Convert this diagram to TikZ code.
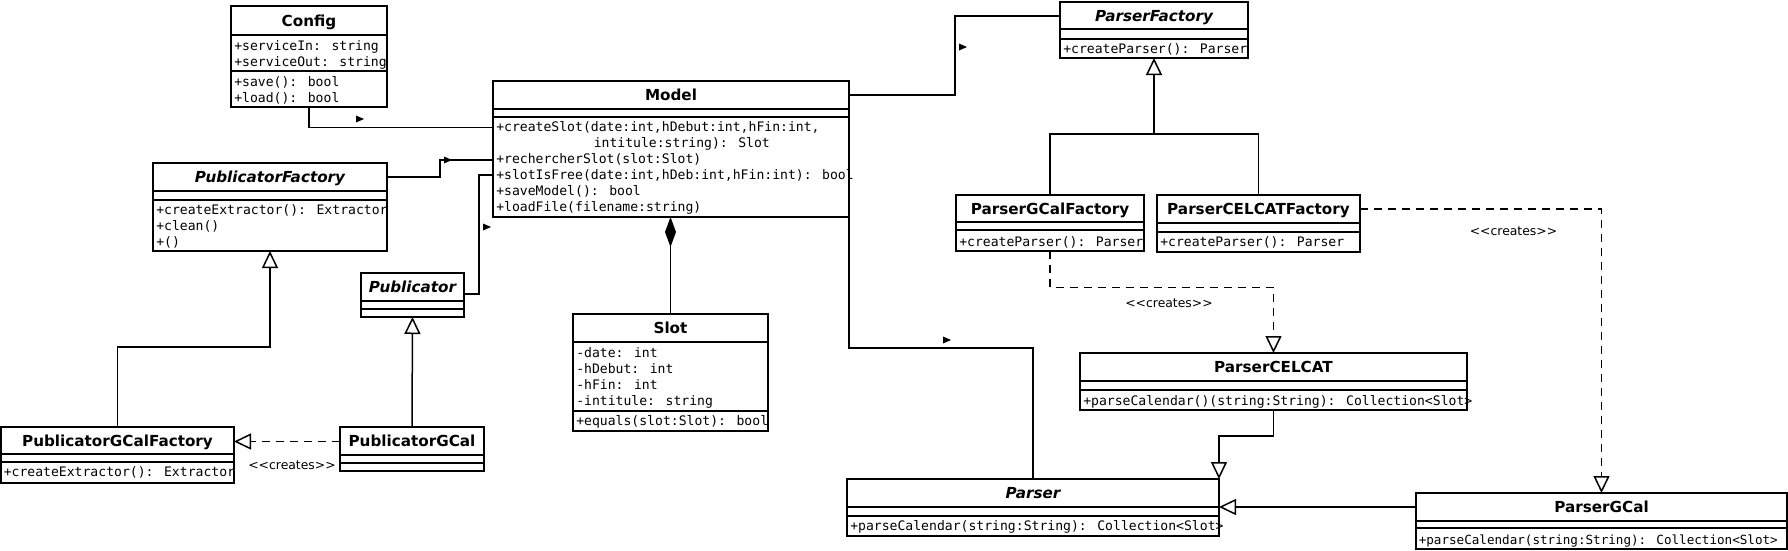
\documentclass[tikz,border=0pt]{standalone}
\usepackage{fontspec}
\setmainfont{DejaVu Sans}
\newfontfamily\monof{DejaVu Sans Mono}
\usetikzlibrary{arrows.meta}
\newcommand\umlbox[7]{%
  \node[cls, anchor=north west, minimum width={(#4-#2)*1pt}, minimum height={(#5-#3)*1pt}] (#1) at (#2,#3) {};
  \draw (#1.west |- 0,#6) -- (#1.east |- 0,#6) (#1.west |- 0,#7) -- (#1.east |- 0,#7);}
\newcommand\members[4]{%
  \node[mem, anchor=north west] (#1) at (#2,#3-12) {\rule{0pt}{12pt}#4};}
\newcommand\navmark[2]{\fill (#1-4,#2-3.5) -- (#1+4,#2) -- (#1-4,#2+3.5) -- cycle;}
\newcommand\creates{<\kern0pt<creates>\kern0pt>}
\begin{document}
\begin{tikzpicture}[x=1pt,y=-1pt, line width=1.5pt,
  cls/.style={draw, line width=1.5pt, inner sep=0pt, outer sep=0pt, fill=white},
  ttl/.style={font=\fontsize{15.2}{18}\selectfont\bfseries, inner sep=0pt, anchor=base},
  ittl/.style={font=\fontsize{15.2}{18}\selectfont\bfseries\itshape, inner sep=0pt, anchor=base},
  mem/.style={font=\monof\fontsize{13.1}{16}\selectfont, align=left, inner sep=0pt},
  lbl/.style={font=\fontsize{12.4}{14}\selectfont, inner sep=0pt},
  gen/.style={-{Triangle[open,fill=white,length=17pt,width=16pt]}},
  dsh/.style={dash pattern=on 8pt off 6pt},
  comp/.style={{Diamond[length=30pt,width=11pt]}-},
]
\useasboundingbox (0,0) rectangle (1788,550);

% ---------- classes ----------
\umlbox{config}{231}{6}{387}{107}{35}{71}
\node[ttl] (config-t) at (309,26) {Config};
\members{config-a}{233.5}{49.5}{+serviceIn: string\\+serviceOut: string}
\members{config-m}{233.5}{85.5}{+save(): bool\\+load(): bool}

\umlbox{model}{493}{81}{849}{217}{109}{117}
\node[ttl] (model-t) at (671,100.5) {Model};
\members{model-m}{495.5}{131}{+createSlot(date:int,hDebut:int,hFin:int,\\\hspace*{97.5pt}intitule:string): Slot\\+rechercherSlot(slot:Slot)\\+slotIsFree(date:int,hDeb:int,hFin:int): bool\\+saveModel(): bool\\+loadFile(filename:string)}

\umlbox{pubfac}{153}{163}{387}{251}{191}{200}
\node[ittl] (pubfac-t) at (270,182.5) {PublicatorFactory};
\members{pubfac-m}{155.5}{213.5}{+createExtractor(): Extractor\\+clean()\\+()}

\umlbox{pub}{361}{273}{464}{317}{301}{309}
\node[ittl] (pub-t) at (412.5,292.5) {Publicator};

\umlbox{pubgcalfac}{1}{427}{234}{483}{454}{462}
\node[ttl] (pubgcalfac-t) at (117.5,446) {PublicatorGCalFactory};
\members{pubgcalfac-m}{3}{476}{+createExtractor(): Extractor}

\umlbox{pubgcal}{340}{427}{484}{471}{455}{463}
\node[ttl] (pubgcal-t) at (412,446.5) {PublicatorGCal};

\umlbox{slot}{573}{314}{768}{431}{342}{411}
\node[ttl] (slot-t) at (670.5,333.5) {Slot};
\members{slot-a}{575.5}{357}{-date: int\\-hDebut: int\\-hFin: int\\-intitule: string}
\members{slot-m}{575.5}{425}{+equals(slot:Slot): bool}

\umlbox{parser}{847}{479}{1219}{536}{507}{516}
\node[ittl] (parser-t) at (1033,498.5) {Parser};
\members{parser-m}{849.5}{530}{+parseCalendar(string:String): Collection<Slot>}

\umlbox{parserfac}{1060}{2}{1248}{58}{29}{39}
\node[ittl] (parserfac-t) at (1154,21) {ParserFactory};
\members{parserfac-m}{1062.5}{53}{+createParser(): Parser}

\umlbox{pgcalfac}{956}{195}{1144}{251}{222}{230}
\node[ttl] (pgcalfac-t) at (1050,214) {ParserGCalFactory};
\members{pgcalfac-m}{958.5}{246}{+createParser(): Parser}

\umlbox{pcelfac}{1157}{195}{1360}{252}{223}{232}
\node[ttl] (pcelfac-t) at (1258.5,214.5) {ParserCELCATFactory};
\members{pcelfac-m}{1159.5}{246}{+createParser(): Parser}

\umlbox{pcelcat}{1080}{353}{1467}{410}{381}{390}
\node[ttl] (pcelcat-t) at (1273.5,372.5) {ParserCELCAT};
\members{pcelcat-m}{1082.5}{404.5}{+parseCalendar()(string:String): Collection<Slot>}

\umlbox{pgcal}{1416}{493}{1787}{549}{521}{528}
\node[ttl] (pgcal-t) at (1601.5,512.5) {ParserGCal};
\members{pgcal-m}{1418}{543.5}{\fontsize{12.6}{16}\selectfont+parseCalendar(string:String): Collection<Slot>}

% ---------- associations ----------
\draw (config.south) -- (config.south |- 0,127.5) -- (model.west |- 0,127.5);
\navmark{360}{119}
\draw (pubfac.east |- 0,177) -| (440,160) -- (model.west |- 0,160);
\navmark{448}{160}
\draw (pub.east |- 0,294) -| (479,175) -- (model.west |- 0,175);
\navmark{487}{227}
\draw (model.east |- 0,95) -| (955,16) -- (parserfac.west |- 0,16);
\navmark{963}{47}
\draw (model.south east) -- (849,348) -| (parser.north);
\navmark{947}{340}
\draw[comp] (slot.north |- model.south) -- (slot.north);

% ---------- generalisations ----------
\draw[gen] (pubgcalfac.north) -- (117.5,347) -| (pubfac.south);
\draw[gen] (pubgcal.north) -- (pub.south);
\draw[gen] (pgcalfac.north) |- (1154,134) -- (parserfac.south);
\draw (pcelfac.north) |- (1154,134);
\draw[gen] (pcelcat.south) -- (1273.5,436) -| (parser.north east);
\draw[gen] (pgcal.west |- 0,507) -- (parser.east |- 0,507);

% ---------- creates ----------
\draw[gen,dsh] (pubgcal.west |- 0,441.5) -- (pubgcalfac.east |- 0,441.5);
\node[lbl] (cr1) at (292,465) {\creates};
\draw[gen,dsh] (pgcalfac.south) |- (1273.5,287.5) -- (pcelcat.north);
\node[lbl] (cr2) at (1169,303) {\creates};
\draw[gen,dsh] (pcelfac.east |- 0,209) -| (pgcal.north);
\node[lbl] (cr3) at (1513.5,231) {\creates};
\end{tikzpicture}
\end{document}
